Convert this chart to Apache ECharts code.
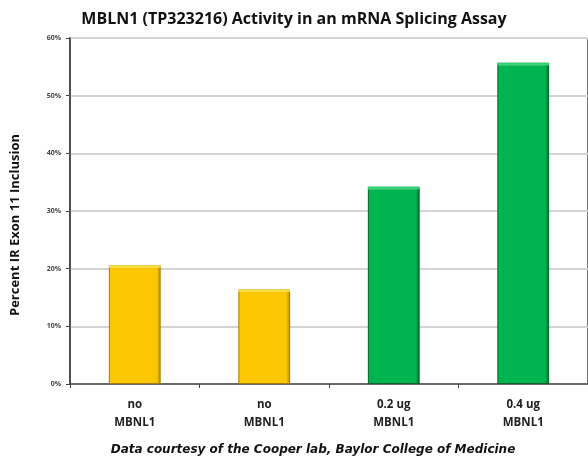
<!DOCTYPE html>
<html>
<head>
<meta charset="utf-8">
<script src="https://cdn.jsdelivr.net/npm/echarts@6/dist/echarts.min.js"></script>
<style>
  html, body { margin: 0; padding: 0; background: #fff; }
  #chart { width: 588px; height: 461px; }
</style>
</head>
<body>
<div id="chart"></div>
<script>
const categories = ['no\nMBNL1', 'no\nMBNL1', '0.2 ug\nMBNL1', '0.4 ug\nMBNL1'];
const values = [20.6, 16.4, 34.2, 55.7];
const barColors = ['yellow', 'yellow', 'green', 'green'];

const palette = {
    yellow: { fill: ['#ffdf40', '#ffcc00', '#fcc700', '#b88f00'], border: '#a07c00' },
    green: { fill: ['#2fd070', '#00b850', '#00b550', '#00702f'], border: '#006029' }
};

const chart = echarts.init(document.getElementById('chart'));

const option = {
    animation: false,
    title: {
        text: 'MBLN1 (TP323216) Activity in an mRNA Splicing Assay',
        left: 'center',
        top: 6,
        textStyle: { fontFamily: 'Open Sans', fontSize: 16, fontWeight: 'bold', color: '#111' }
    },
    grid: {
        left: 70,
        right: -6,
        top: 38,
        bottom: 77,
        show: true,
        borderColor: '#444',
        borderWidth: 1.5
    },
    graphic: [{
        type: 'text',
        x: 313,
        y: 450,
        style: {
            text: 'Data courtesy of the Cooper lab, Baylor College of Medicine',
            font: 'italic bold 12px "DejaVu Sans"',
            fill: '#111',
            align: 'center',
            verticalAlign: 'middle'
        }
    }, {
        type: 'text',
        x: 15,
        y: 225,
        rotation: Math.PI / 2,
        style: {
            text: 'Percent IR Exon 11 Inclusion',
            font: 'bold 13px "Open Sans"',
            fill: '#111',
            align: 'center',
            verticalAlign: 'middle'
        }
    }],
    xAxis: {
        type: 'category',
        data: categories,
        axisLine: { lineStyle: { color: '#444', width: 1.5 } },
        axisTick: { show: true, length: 4, lineStyle: { color: '#444' } },
        axisLabel: {
            color: '#222',
            fontFamily: 'Open Sans',
            fontWeight: 'bold',
            fontSize: 11.5,
            lineHeight: 18,
            margin: 12
        }
    },
    yAxis: {
        type: 'value',
        min: 0,
        max: 60,
        interval: 10,
        axisLine: { show: true, lineStyle: { color: '#444', width: 1.5 } },
        axisTick: { show: true, length: 4, lineStyle: { color: '#444' } },
        axisLabel: {
            formatter: '{value}%',
            color: '#444',
            fontFamily: 'Open Sans',
            fontWeight: 'bold',
            fontSize: 7,
            margin: 9
        },
        splitLine: { lineStyle: { color: '#d4d4d4', width: 2 } }
    },
    series: [{
        type: 'bar',
        barWidth: '40%',
        data: values.map((v, i) => {
            const p = palette[barColors[i]];
            return {
                value: v,
                itemStyle: {
                    color: new echarts.graphic.LinearGradient(0, 0, 1, 0, [
                        { offset: 0, color: p.fill[1] },
                        { offset: 0.05, color: p.fill[2] },
                        { offset: 0.92, color: p.fill[2] },
                        { offset: 1, color: p.fill[3] }
                    ]),
                    borderColor: p.border,
                    borderWidth: 1
                }
            };
        })
    }, {
        // thin light bevel along the top of each bar
        type: 'bar',
        barWidth: '40%',
        barGap: '-100%',
        silent: true,
        data: values.map((v, i) => ({
            value: v,
            itemStyle: {
                color: new echarts.graphic.LinearGradient(0, 0, 0, 1, [
                    { offset: 0, color: palette[barColors[i]].fill[0] },
                    { offset: 1.5 / (v * 5.72), color: palette[barColors[i]].fill[0] },
                    { offset: 3 / (v * 5.72), color: 'rgba(255,255,255,0)' },
                    { offset: 1, color: 'rgba(255,255,255,0)' }
                ])
            }
        }))
    }]
};

chart.setOption(option);
</script>
</body>
</html>
